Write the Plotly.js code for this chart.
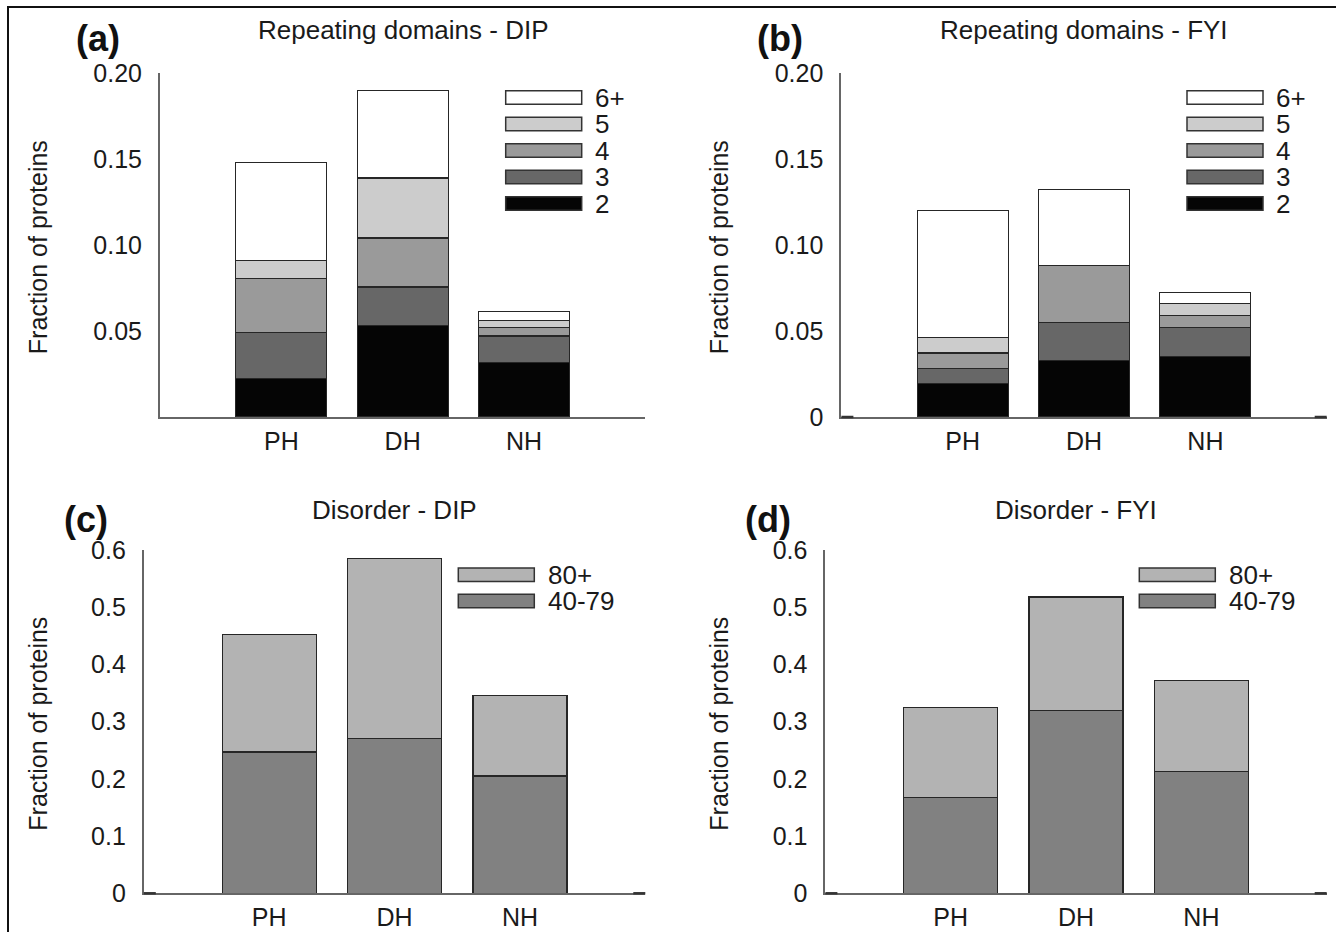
<!DOCTYPE html>
<html>
<head>
<meta charset="utf-8">
<script src="https://cdn.plot.ly/plotly-3.0.1.min.js"></script>
<style>
html,body{margin:0;padding:0;background:#fff;}
#chart{width:1336px;height:932px;}
</style>
</head>
<body>
<div id="chart"></div>
<script>
// ---------- data ----------
const categories = ['PH', 'DH', 'NH'];

const repeatNames = ['2', '3', '4', '5', '6+'];
const repeatColors = ['#050505', '#676767', '#9a9a9a', '#cccccc', '#ffffff'];

// Repeating domains - DIP (segment sizes, stacked bottom to top)
const dip2  = [0.0225, 0.0531, 0.0318];
const dip3  = [0.0267, 0.0225, 0.0153];
const dip4  = [0.0316, 0.0286, 0.0050];
const dip5  = [0.0101, 0.0349, 0.0041];
const dip6p = [0.0574, 0.0510, 0.0050];

// Repeating domains - FYI
const fyi2  = [0.0194, 0.0331, 0.0353];
const fyi3  = [0.0087, 0.0221, 0.0168];
const fyi4  = [0.0091, 0.0330, 0.0070];
const fyi5  = [0.0091, 0.0000, 0.0070];
const fyi6p = [0.0739, 0.0442, 0.0062];

const disorderNames = ['40-79', '80+'];
const disorderColors = ['#818181', '#b3b3b3'];

// Disorder - DIP
const disDip40 = [0.247, 0.270, 0.205];
const disDip80 = [0.205, 0.315, 0.141];
// Disorder - FYI
const disFyi40 = [0.167, 0.319, 0.213];
const disFyi80 = [0.158, 0.199, 0.159];

const repTicks = [0.05, 0.10, 0.15, 0.20];
const repTickText = ['0.05', '0.10', '0.15', '0.20'];
const repTicksB = [0, 0.05, 0.10, 0.15, 0.20];
const repTickTextB = ['0', '0.05', '0.10', '0.15', '0.20'];
const disTicks = [0, 0.1, 0.2, 0.3, 0.4, 0.5, 0.6];
const disTickText = ['0', '0.1', '0.2', '0.3', '0.4', '0.5', '0.6'];

const panelTitles = ['Repeating domains - DIP', 'Repeating domains - FYI', 'Disorder - DIP', 'Disorder - FYI'];
const panelLabels = ['(a)', '(b)', '(c)', '(d)'];
const yTitle = 'Fraction of proteins';

// ---------- layout helpers ----------
const W = 1336, H = 932;
const px = x => x / W;
const py = y => 1 - y / H;
const FONT = 'Liberation Sans, Arial, Helvetica, sans-serif';
const TXT = '#1a1a1a';

// pixel boxes of the four plot areas [left, right, top, bottom]
const boxes = [
  [160, 645.3, 73.3, 417],
  [841.4, 1326.7, 73.3, 417],
  [143.8, 645.3, 550, 893.3],
  [825.4, 1326.7, 550, 893.3]
];

const traces = [];
function addStack(seriesList, names, colors, axIdx) {
  const sfx = axIdx === 0 ? '' : String(axIdx + 1);
  seriesList.forEach((vals, i) => {
    traces.push({
      type: 'bar', x: categories, y: vals, name: names[i],
      xaxis: 'x' + sfx, yaxis: 'y' + sfx,
      width: 0.75, showlegend: false, hoverinfo: 'x+y+name',
      marker: {color: colors[i], line: {color: '#262626', width: 1.2}}
    });
  });
}
addStack([dip2, dip3, dip4, dip5, dip6p], repeatNames, repeatColors, 0);
addStack([fyi2, fyi3, fyi4, fyi5, fyi6p], repeatNames, repeatColors, 1);
addStack([disDip40, disDip80], disorderNames, disorderColors, 2);
addStack([disFyi40, disFyi80], disorderNames, disorderColors, 3);

const layout = {
  width: W, height: H,
  margin: {l: 0, r: 0, t: 0, b: 0},
  paper_bgcolor: '#ffffff', plot_bgcolor: '#ffffff',
  barmode: 'stack',
  font: {family: FONT, size: 26, color: TXT},
  shapes: [], annotations: []
};

const yRanges = [[0, 0.2], [0, 0.2], [0, 0.6], [0, 0.6]];
const yTv = [repTicks, repTicksB, disTicks, disTicks];
const yTt = [repTickText, repTickTextB, disTickText, disTickText];
const titleY = [30, 30, 510, 510];
const yTitleX = [38, 719, 38, 719];

boxes.forEach((b, i) => {
  const sfx = i === 0 ? '' : String(i + 1);
  layout['xaxis' + sfx] = {
    domain: [px(b[0]), px(b[1])], anchor: 'y' + sfx,
    type: 'category', range: [-1, 3],
    showline: true, linecolor: '#666666', linewidth: 2,
    showgrid: false, zeroline: false, ticks: '',
    ticklabelstandoff: 1,
    tickfont: {family: FONT, size: 25, color: TXT}, fixedrange: true
  };
  layout['yaxis' + sfx] = {
    domain: [py(b[3]), py(b[2])], anchor: 'x' + sfx,
    range: yRanges[i], tickmode: 'array', tickvals: yTv[i], ticktext: yTt[i],
    showline: true, linecolor: '#666666', linewidth: 2,
    showgrid: false, zeroline: false, ticks: '',
    ticklabelstandoff: 11,
    tickfont: {family: FONT, size: 25, color: TXT}, fixedrange: true
  };
  // y-axis title
  layout.annotations.push({
    xref: 'paper', yref: 'paper', x: px(yTitleX[i]), y: py((b[2] + b[3]) / 2 + 2),
    text: yTitle, textangle: -90, showarrow: false, xanchor: 'center', yanchor: 'middle',
    font: {family: FONT, size: 25, color: TXT}
  });
  // panel title
  layout.annotations.push({
    xref: 'paper', yref: 'paper', x: px((b[0] + b[1]) / 2), y: py(titleY[i]),
    text: panelTitles[i], showarrow: false, xanchor: 'center', yanchor: 'middle',
    font: {family: FONT, size: 26, color: TXT}
  });
  // short inward tick marks at y = 0 on both ends (panels b, c, d)
  if (i > 0) {
    const tl = 12 / (b[1] - b[0]);
    [[0, tl], [1 - tl, 1]].forEach(seg => {
      layout.shapes.push({
        type: 'line', xref: 'x' + sfx + ' domain', yref: 'y' + sfx + ' domain',
        x0: seg[0], x1: seg[1], y0: 0, y1: 0,
        line: {color: '#333333', width: 2.5}
      });
    });
  }
});

// panel letters
const letterPos = [[98, 38], [780, 38], [86, 519], [768, 519]];
letterPos.forEach((p, i) => {
  layout.annotations.push({
    xref: 'paper', yref: 'paper', x: px(p[0]), y: py(p[1]),
    text: '<b>' + panelLabels[i] + '</b>', showarrow: false,
    xanchor: 'center', yanchor: 'middle',
    font: {family: FONT, size: 36, color: '#111111'}
  });
});

// custom legends (wide boxes as in the original)
function addLegend(names, colors, boxLeft, textLeft, firstTop, step) {
  const n = names.length;
  for (let k = 0; k < n; k++) {
    const idx = n - 1 - k;   // top entry is the last series
    const top = firstTop + k * step;
    layout.shapes.push({
      type: 'rect', xref: 'paper', yref: 'paper',
      x0: px(boxLeft), x1: px(boxLeft + 76), y0: py(top + 13.5), y1: py(top),
      fillcolor: colors[idx], line: {color: '#333333', width: 1.5}
    });
    layout.annotations.push({
      xref: 'paper', yref: 'paper', x: px(textLeft), y: py(top + 7),
      text: names[idx], showarrow: false, xanchor: 'left', yanchor: 'middle',
      font: {family: FONT, size: 26, color: TXT}
    });
  }
}
addLegend(repeatNames, repeatColors, 505.7, 593, 90.7, 26.5);
addLegend(repeatNames, repeatColors, 1187, 1274, 90.7, 26.5);
addLegend(disorderNames, disorderColors, 458.3, 546, 568, 26.3);
addLegend(disorderNames, disorderColors, 1139.3, 1227, 568, 26.3);

// outer figure frame
layout.shapes.push({
  type: 'rect', xref: 'paper', yref: 'paper',
  x0: px(8), x1: px(1345), y0: py(945), y1: py(7),
  line: {color: '#111111', width: 2}, fillcolor: 'rgba(0,0,0,0)', layer: 'below'
});

Plotly.newPlot('chart', traces, layout, {displayModeBar: false, staticPlot: true});
</script>
</body>
</html>
